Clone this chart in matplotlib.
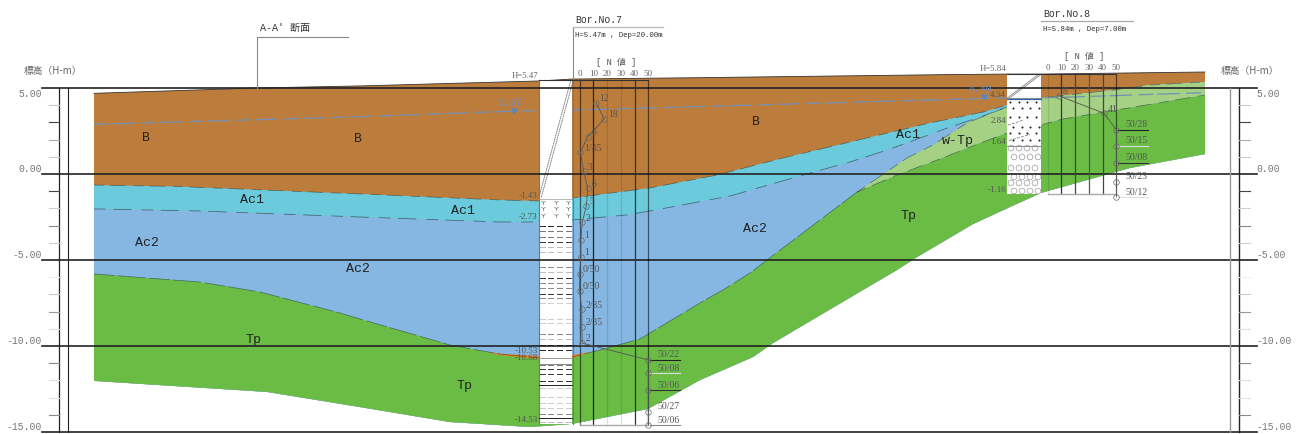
import numpy as np
import matplotlib
matplotlib.use('Agg')
import matplotlib.pyplot as plt

# section geometry: distance along section / elevation (H-m)
ground_x = [94, 257, 360, 540, 572, 700, 950, 1007, 1041, 1205]
ground_e = [4.69, 5.0, 5.12, 5.41, 5.52, 5.6, 5.78, 5.81, 5.81, 5.93]

b_bot_x = [94, 180, 360, 500, 540, 572, 650, 717, 783, 850, 930, 983, 1007, 1041, 1113, 1150, 1205]
b_bot_e = [-0.64, -0.73, -1.16, -1.51, -1.57, -1.40, -0.81, -0.06, 0.93, 1.86, 2.97, 3.60, 4.01, 4.42, 4.88, 5.17, 5.35]

ac1_bot_x = [94, 200, 360, 500, 540, 572, 627, 650, 730, 803, 850, 890, 950, 983, 1007]
ac1_bot_e = [-2.03, -2.15, -2.50, -2.79, -2.79, -2.67, -2.38, -2.15, -1.28, -0.06, 0.70, 1.45, 2.73, 3.37, 3.90]

ac2_bot_x = [94, 200, 260, 340, 360, 450, 500, 540, 572, 600, 640, 700, 723, 750, 767, 857]
ac2_bot_e = [-5.81, -6.28, -6.86, -8.08, -8.43, -9.94, -10.47, -10.70, -10.64, -10.23, -9.59, -7.50, -6.74, -5.76, -5.00, -1.05]

wtp_top_x = [857, 907, 933, 967, 1007]
wtp_top_e = [-1.05, 0.93, 1.69, 2.97, 3.90]

tp_top_x = [857, 897, 937, 983, 1007, 1041, 1063, 1205]
tp_top_e = [-1.05, -0.06, 0.81, 1.86, 2.38, 2.85, 3.20, 4.59]

tp_bot_x = [94, 267, 360, 450, 530, 572, 648, 700, 753, 773, 863, 897, 917, 973, 1010, 1041, 1130, 1205]
tp_bot_e = [-12.03, -12.67, -13.55, -14.42, -14.71, -14.53, -13.66, -11.98, -10.64, -9.83, -6.74, -5.58, -4.83, -2.91, -1.92, -1.10, 0.35, 1.16]

orange_x = [485, 500, 539, 572, 590]
orange_top = [-10.30, -10.42, -10.55, -10.50, -10.30]
orange_bot = [-10.30, -10.52, -10.72, -10.68, -10.30]

water_x = [94, 360, 514, 572, 650, 1000, 1041, 1205]
water_e = [2.89, 3.33, 3.66, 3.72, 3.84, 4.42, 4.42, 4.73]

# axis
main_levels = [5, 0, -5, -10, -15]
main_labels = ['5.00', '0.00', '-5.00', '-10.00', '-15.00']
main_label_e = [4.68, 0.29, -4.71, -9.71, -14.71]
minor_levels = [4, 3, 2, 1, -1, -2, -3, -4, -6, -7, -8, -9, -11, -12, -13, -14]
minor_greys = ['#cccccc', '#444444', '#aaaaaa', '#cccccc', '#444444', '#cccccc', '#888888', '#cccccc',
               '#eeeeee', '#cccccc', '#999999', '#dddddd', '#888888', '#dddddd', '#e4e4e4', '#888888']

# borehole No.7
b7_e = [4.15, 3.2, 2.17, 1.26, 0.16, -0.83, -1.84, -2.81, -3.84, -4.83, -5.8, -6.78, -7.87, -8.88, -9.83,
        -10.81, -11.59, -12.56, -13.82, -14.6]
b7_n = [12, 18, 6, 0.67, 3, 6, 5, 2, 1, 1, 0, 0, 1.7, 1.7, 2, 50, 50, 50, 50, 50]
b7_txt = ['12', '18', '6', '1/45', '3', '6', '5', '2', '1', '1', '0/50', '0/50', '2/35', '2/35', '2',
          '50/22', '50/08', '50/06', '50/27', '50/06']
b7_under = ['#222222', '#dddddd', '#333333', None, '#888888']
b7_depths = ['-1.43', '-2.73', '-10.53', '-10.68', '-14.53']
b7_depth_e = [-1.25, -2.52, -10.3, -10.72, -14.3]
b7_peat = [-1.61, -1.98, -2.38]
b7_dash_e = [-3.02, -3.31, -3.65, -3.93, -4.26, -4.55, -5.43, -5.72, -6.03, -6.36, -6.65, -6.96, -7.23, -7.52,
             -8.43, -8.68, -9.32, -9.61, -9.94, -10.23, -11.10, -11.34, -11.65, -12.02, -12.46, -12.98, -13.33,
             -13.62, -13.97, -14.40]
b7_dash_c = ['#222222', '#777777', '#777777', '#333333', '#bbbbbb', '#bbbbbb', '#888888', '#bbbbbb', '#333333',
             '#888888', '#888888', '#333333', '#888888', '#cccccc', '#cccccc', '#cccccc', '#888888', '#bbbbbb',
             '#111111', '#222222', '#777777', '#333333', '#333333', '#333333', '#cccccc', '#cccccc', '#cccccc',
             '#cccccc', '#888888', '#bbbbbb']
b7_solid_e = [-10.68, -11.07, -12.27, -14.2]
b7_solid_c = ['#999999', '#888888', '#222222', '#222222']

# borehole No.8
b8_e = [4.55, 3.53, 2.56, 1.63, 0.66, -0.45, -1.35]
b8_n = [8, 41, 50, 50, 50, 50, 50]
b8_txt = ['8', '41', '50/28', '50/15', '50/08', '50/23', '50/12']
b8_under = ['#222222', '#dddddd', '#333333', None, '#dddddd']
b8_depths = ['4.34', '2.84', '1.64', '-1.16']
b8_depth_e = [4.6, 3.07, 1.86, -0.93]
b8_dot_rows = [4.19, 3.84, 3.31, 2.73, 2.38, 1.98]
b8_circ_rows = [1.51, 0.99, 0.35, -0.17, -0.52, -0.99]

# layer names
layer_txt = ['B', 'B', 'B', 'Ac1', 'Ac1', 'Ac1', 'Ac2', 'Ac2', 'Ac2', 'Tp', 'Tp', 'Tp', 'w-Tp']
layer_x = [146, 358, 756, 252, 463, 908, 147, 358, 755, 253, 464, 908, 958]
layer_e = [2.09, 2.03, 3.02, -1.51, -2.15, 2.27, -4.01, -5.52, -3.2, -9.65, -12.33, -2.44, 1.92]

n_ticks = [0, 10, 20, 30, 40, 50]
n_scale = 1.375
b7_x0 = 579.5
b8_x0 = 1047.7

brown = '#bc7d3c'
cyan = '#6bcadb'
blue = '#86b7e2'
green = '#6abc45'
lgreen = '#a5d185'
mono = ['Liberation Mono', 'Noto Sans CJK JP']

fig = plt.figure(figsize=(12.96, 4.34), dpi=100)
ax = fig.add_axes([0, 0, 1, 1])
ax.set_xlim(0, 1296)
ax.set_ylim(-260 / 17.2, 174 / 17.2)
ax.axis('off')


def layer(top_x, top_e, color):
    # everything below the top down to the base of Tp, later layers paint over
    xs = list(top_x) + tp_bot_x[::-1]
    es = list(top_e) + tp_bot_e[::-1]
    ax.fill(xs, es, color=color, lw=0, zorder=1)


tail = [i for i, v in enumerate(b_bot_x) if v > 1007]
tail_x = [b_bot_x[i] for i in tail]
tail_e = [b_bot_e[i] for i in tail]

layer(ground_x, ground_e, brown)
layer(b_bot_x, b_bot_e, cyan)
layer(ac1_bot_x + tail_x, ac1_bot_e + tail_e, blue)
ax.fill(wtp_top_x + tail_x + tp_top_x[::-1], wtp_top_e + tail_e + tp_top_e[::-1], color=lgreen, lw=0, zorder=1)
layer(ac2_bot_x + tp_top_x[1:], ac2_bot_e + tp_top_e[1:], green)
ax.fill_between(orange_x, orange_top, orange_bot, color='#e8832a', lw=0, zorder=1.2)

# layer boundaries, rough dashes like the CAD export
dash = (0, (14, 9, 22, 12))
edge = (0.15, 0.2, 0.2, 0.6)
ax.plot(ground_x, ground_e, color='#333333', lw=0.6, zorder=1.5)
ax.plot(b_bot_x, b_bot_e, color=edge, lw=0.5, ls=dash, zorder=1.5)
ax.plot(ac1_bot_x, ac1_bot_e, color=edge, lw=0.6, ls=dash, zorder=1.5)
ax.plot(ac2_bot_x, ac2_bot_e, color=edge, lw=0.5, ls=(0, (30, 4, 40, 6)), zorder=1.5)
ax.plot(wtp_top_x, wtp_top_e, color=edge, lw=0.5, ls=dash, zorder=1.5)
ax.plot(tp_top_x, tp_top_e, color=edge, lw=0.5, ls=dash, zorder=1.5)
ax.plot(water_x, water_e, color='#7590b5', lw=0.9, ls=(0, (12, 3, 18, 5)), zorder=1.6)

# boring columns
ax.fill_between([539, 572], -14.53, 5.47, color='white', lw=0, zorder=2)
ax.fill_between([1007, 1041], -1.16, 5.84, color='white', lw=0, zorder=2)
for xc in [538.5, 572.5]:
    ax.plot([xc, xc], [-14.53, 5.47], color='#777777', lw=0.8, zorder=2.1)

# diagonal hatch in the upper part of the columns
for off in [-1.2, 1.2]:
    ax.plot([572 + off, 540 + off], [5.45, -1.38], color='#777777', lw=0.6, ls=(0, (2, 0.6)), zorder=2.1)
    ax.plot([1040 + off, 1008 + off], [5.8, 4.4], color='#888888', lw=0.6, zorder=2.1)

# soil symbols, No.7
for row in b7_peat:
    ax.scatter([543, 556, 568], [row] * 3, marker='1', s=14, color='#777777', linewidths=0.5, zorder=2.2)
ax.plot([539, 572], [-1.43, -1.43], color='#999999', lw=0.5, zorder=2.2)
for row, col in zip(b7_dash_e, b7_dash_c):
    for xd in [540, 548, 557, 566]:
        ax.plot([xd, xd + 5], [row, row], color=col, lw=0.7, zorder=2.2)
for row, col in zip(b7_solid_e, b7_solid_c):
    ax.plot([539, 572], [row, row], color=col, lw=0.7, zorder=2.2)

# soil symbols, No.8
for k, row in enumerate(b8_dot_rows):
    xs = np.arange(1010, 1040, 8.6) + (k % 2) * 3
    ax.scatter(xs, [row] * len(xs), s=2.2, color='#222222', linewidths=0, zorder=2.2)
for k, row in enumerate(b8_circ_rows):
    xs = np.arange(1011, 1040, 8) + (k % 2) * 3
    ax.scatter(xs, [row] * len(xs), s=17, facecolors='none', edgecolors='#999999', linewidths=0.5, zorder=2.2)
ax.plot([1007, 1041], [1.64, 1.64], color='#888888', lw=0.7, zorder=2.2)
ax.plot([1007, 1041], [4.34, 4.34], color='#3366aa', lw=0.9, zorder=2.2)
ax.plot([1007, 1041], [4.4, 4.4], color='#777777', lw=0.6, zorder=2.2)
ax.plot([1008, 1024], [2.84, 3.15], color='#666666', lw=0.5, ls=(0, (4, 2)), zorder=2.2)
ax.plot([1009, 1030], [1.95, 2.3], color='#666666', lw=0.5, ls=(0, (4, 2)), zorder=2.2)

# main frame
for lev in main_levels:
    ax.plot([42, 1257], [lev, lev], color='#222222', lw=1.2, zorder=3)
ax.plot([59, 59], [-15, 5], color='#222222', lw=0.9, zorder=3)
ax.plot([67.5, 67.5], [-15, 5], color='#222222', lw=0.8, zorder=3)
ax.plot([1230, 1230], [-15, 5], color='#999999', lw=1.0, zorder=3)
ax.plot([1239, 1239], [-15, 5], color='#222222', lw=1.0, zorder=3)
for lev, col in zip(minor_levels, minor_greys):
    ax.plot([49, 59], [lev, lev], color=col, lw=0.8, zorder=3)
    ax.plot([1239, 1250], [lev, lev], color=col, lw=0.8, zorder=3)
for lab, ey in zip(main_labels, main_label_e):
    ax.text(42, ey, lab, ha='right', va='center', fontsize=7, family='Liberation Mono', color='#777777')
    ax.text(1256, ey, lab, ha='left', va='center', fontsize=7, family='Liberation Mono', color='#777777')
ax.text(24, 5.97, '標高（H-m）', ha='left', va='center', fontsize=7, family=mono[::-1], color='#666666')
ax.text(1221, 5.97, '標高（H-m）', ha='left', va='center', fontsize=7, family=mono[::-1], color='#666666')

# section title and borehole headers
ax.plot([257, 257, 348], [5.0, 7.99, 7.99], color='#888888', lw=0.8, zorder=3)
ax.text(260, 8.5, "A-A' 断面", ha='left', va='center', fontsize=7.2, family=mono, color='#333333')
ax.plot([573, 573], [5.5, 8.55], color='#888888', lw=0.8, zorder=3)
ax.plot([573, 663], [8.55, 8.55], color='#bbbbbb', lw=0.9, zorder=3)
ax.text(575, 8.95, 'Bor.No.7', ha='left', va='center', fontsize=7, family='Liberation Mono', color='#333333')
ax.text(575, 8.08, 'H=5.47m , Dep=20.00m', ha='left', va='center', fontsize=5.3, family='Liberation Mono', color='#333333')
ax.plot([1041, 1133], [8.87, 8.87], color='#aaaaaa', lw=0.9, zorder=3)
ax.text(1043, 9.3, 'Bor.No.8', ha='left', va='center', fontsize=7, family='Liberation Mono', color='#333333')
ax.text(1043, 8.43, 'H=5.84m , Dep=7.00m', ha='left', va='center', fontsize=5.3, family='Liberation Mono', color='#333333')
ax.text(616, 6.5, '[ N 値 ]', ha='center', va='center', fontsize=6.3, family=mono, color='#555555')
ax.text(1084, 6.86, '[ N 値 ]', ha='center', va='center', fontsize=6.3, family=mono, color='#555555')
ax.text(538, 5.7, 'H=5.47', ha='right', va='center', fontsize=6.3, family='Liberation Serif', color='#666666')
ax.text(1006, 6.1, 'H=5.84', ha='right', va='center', fontsize=6.3, family='Liberation Serif', color='#666666')


def n_panel(x0, top, bottom, cols):
    for n, col in zip(n_ticks, cols):
        xn = x0 + n * n_scale
        ax.plot([xn, xn], [bottom, top], color=col, lw=0.9, zorder=3)
        ax.text(xn, top + 0.37, str(n), ha='center', va='center', fontsize=6.5, family='Liberation Serif', color='#666666')
    ax.plot([x0 - 41, x0 + 50 * n_scale], [top, top], color='#333333', lw=0.8, zorder=3)
    ax.plot([x0, x0 + 50 * n_scale], [bottom, bottom], color='#aaaaaa', lw=1.0, zorder=3)


faint = (0, 0, 0, 0.12)
mid = (0, 0, 0, 0.55)
n_panel(b7_x0, 5.47, -14.6, [mid, '#222222', faint, faint, '#333333', mid])
n_panel(b8_x0, 5.81, -1.16, [faint, '#333333', '#444444', '#555555', '#444444', mid])


def n_curve(x0, ev, nv, txts, unders):
    xs = x0 + np.array(nv) * n_scale
    ax.plot(xs, ev, color='#555555', lw=0.6, zorder=3.2)
    ax.plot(xs, ev, 'o', ms=4.0, mfc='none', mec='#666666', mew=0.5, zorder=3.3)
    u = 0
    for xp, ep, t in zip(xs, ev, txts):
        if len(t) == 5:
            col = unders[u]
            u += 1
            if col is not None:
                ax.plot([xp + 2, xp + 32], [ep, ep], color=col, lw=0.8, zorder=3.1)
            ax.annotate(t, (xp, ep), xytext=(6.5, 3.6), textcoords='offset points', ha='left', va='center',
                        fontsize=7, family='Liberation Serif', color='#555555', zorder=3.4)
        else:
            ax.annotate(t, (xp, ep), xytext=(2.5, 3.0), textcoords='offset points', ha='left', va='center',
                        fontsize=7, family='Liberation Serif', color='#555555', zorder=3.4)


n_curve(b7_x0, b7_e, b7_n, b7_txt, b7_under)
n_curve(b8_x0, b8_e, b8_n, b8_txt, b8_under)

# depth labels next to the columns
for lab, ey in zip(b7_depths, b7_depth_e):
    ax.text(537.5, ey, lab, ha='right', va='center', fontsize=6.5, family='Liberation Serif', color='#555555', zorder=3.4)
for lab, ey in zip(b8_depths, b8_depth_e):
    ax.text(1006, ey, lab, ha='right', va='center', fontsize=6.5, family='Liberation Serif', color='#555555', zorder=3.4)

# water level marks
ax.text(510.5, 4.1, '3.67', ha='center', va='center', fontsize=7, family='Liberation Mono', color='#6a8fc8', zorder=3.4)
ax.plot([514], [3.66], 'v', ms=3.5, color='#5a84c0', zorder=3.4)
ax.text(980, 4.95, '4.40', ha='center', va='center', fontsize=7, family='Liberation Mono', color='#6a8fc8', zorder=3.4)
ax.plot([984], [4.5], 'v', ms=3.5, color='#5a84c0', zorder=3.4)

for t, xl, el in zip(layer_txt, layer_x, layer_e):
    ax.text(xl, el, t, ha='center', va='center', fontsize=9.5, family='Liberation Mono', color='#222222', zorder=3.5)

fig.savefig('out.png', dpi=100)
